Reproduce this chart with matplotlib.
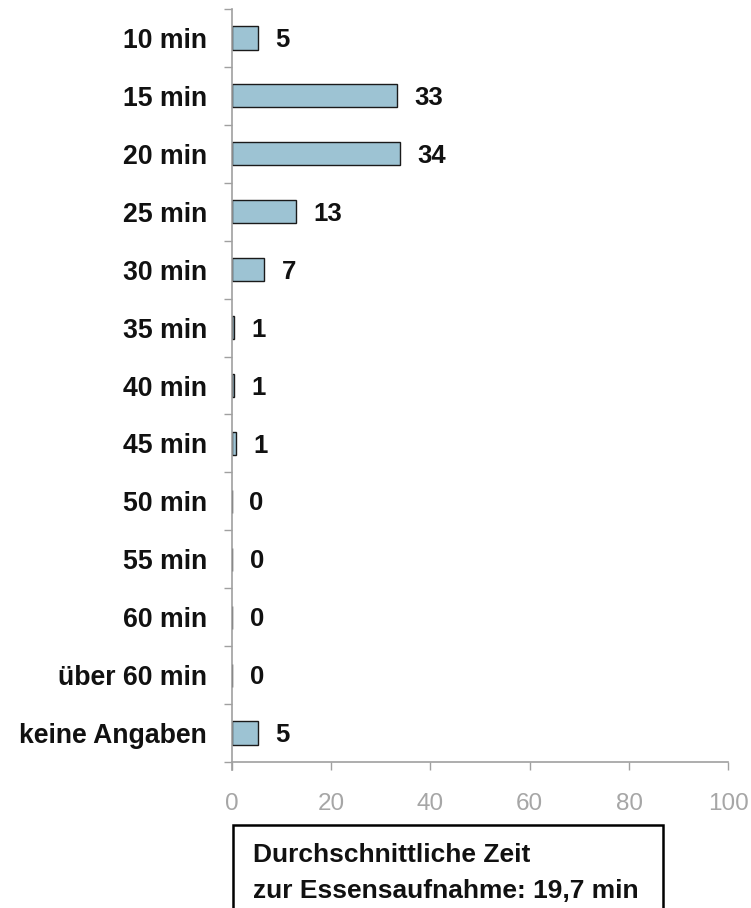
"""
Essensaufnahme — durchschnittliche Zeit (horizontal bar chart)
Saves out.png
"""

import numpy as np
import matplotlib
matplotlib.use("Agg")
import matplotlib.pyplot as plt
from matplotlib.patches import Rectangle

plt.rcParams["font.family"] = ["Liberation Sans", "DejaVu Sans"]

# Data (percent of answers)
categories = ["10 min", "15 min", "20 min", "25 min", "30 min", "35 min",
              "40 min", "45 min", "50 min", "55 min", "60 min",
              "über 60 min", "keine Angaben"]
values     = [5.3, 33.2, 34.0, 12.9, 6.6, 0.6, 0.6, 0.9, 0.0,
              0.2, 0.2, 0.2, 5.3]
x_ticks    = [0, 20, 40, 60, 80, 100]
note_lines = ["Durchschnittliche Zeit", "zur Essensaufnahme: 19,7 min"]

BAR_COLOR  = "#9dc3d3"
AXIS_COLOR = "#a0a0a0"
W, H = 751, 908

fig = plt.figure(figsize=(W / 100, H / 100), dpi=100)
fig.patch.set_facecolor("white")

ax = fig.add_axes([231.5 / W, 1 - 762 / H, (728.5 - 231.5) / W, (762 - 9) / H])

y = np.arange(len(categories))
bars = ax.barh(y, values, height=0.4, color=BAR_COLOR,
               edgecolor="#1a1a1a", linewidth=1.0)

for bar, val in zip(bars, values):
    ax.annotate(f"{val:.0f}", xy=(bar.get_width(), bar.get_y() + bar.get_height() / 2),
                xytext=(12.5, -1.5), textcoords="offset points",
                ha="left", va="center", fontsize=18.5, fontweight="bold",
                color="#111111")

ax.set_ylim(len(categories) - 0.5, -0.5)
ax.set_xlim(0, 100)

# category labels at centers, tick marks at the boundaries
ax.set_yticks(y)
ax.set_yticklabels(categories, fontsize=19.2, fontweight="bold", color="#111111")
ax.set_yticks(np.arange(-0.5, len(categories), 1.0), minor=True)
ax.tick_params(axis="y", which="major", length=0, pad=17.5)
ax.tick_params(axis="y", which="minor", length=6, width=1, color=AXIS_COLOR,
               direction="out")

ax.set_xticks(x_ticks)
ax.set_xticklabels([str(t) for t in x_ticks], fontsize=17.5, color="#a6a6a6")
ax.tick_params(axis="x", length=6, width=1, color=AXIS_COLOR,
               direction="out", pad=16)

for s in ["top", "right"]:
    ax.spines[s].set_visible(False)
for s in ["left", "bottom"]:
    ax.spines[s].set_color(AXIS_COLOR)
    ax.spines[s].set_linewidth(1.2)
ax.spines["left"].set_bounds(len(categories) - 0.5 + 0.14, -0.5)

# note box at the bottom
box = Rectangle((232.5 / W, 1 - 915 / H), (663 - 232.5) / W, (915 - 825) / H,
                transform=fig.transFigure, facecolor="white",
                edgecolor="black", linewidth=1.8, clip_on=False)
fig.patches.append(box)
fig.text(253 / W, 1 - 862 / H, note_lines[0], fontsize=19, fontweight="bold",
         va="baseline", ha="left", color="#111111")
fig.text(253 / W, 1 - 898 / H, note_lines[1], fontsize=19, fontweight="bold",
         va="baseline", ha="left", color="#111111")

plt.savefig("out.png", dpi=100, facecolor="white")
plt.close()
